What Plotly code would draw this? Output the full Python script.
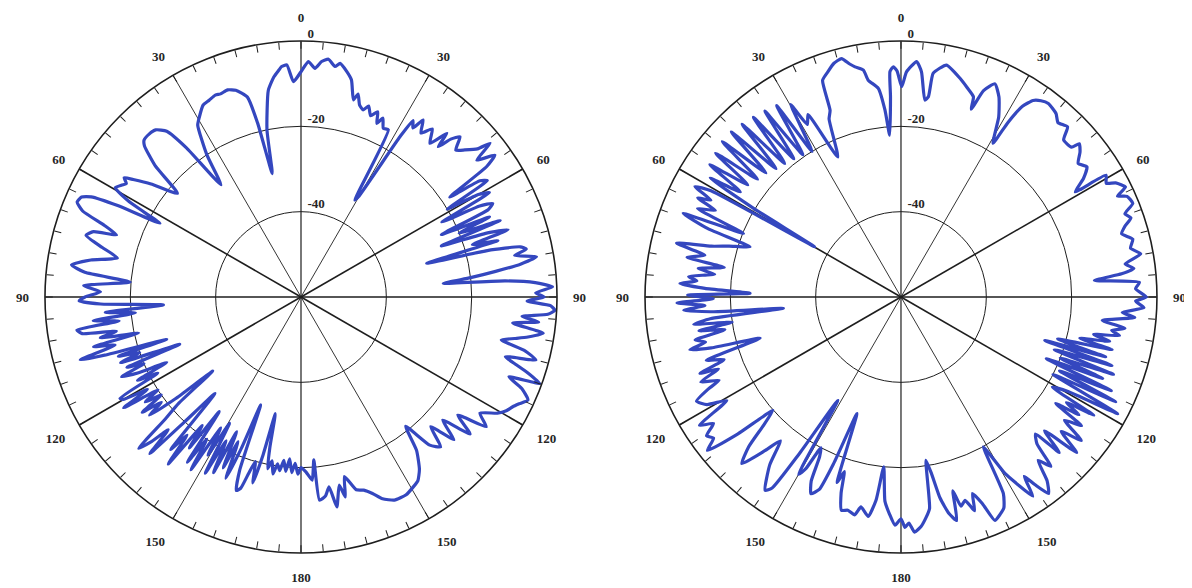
import plotly.graph_objects as go

# ---------------- data (dB vs. angle in degrees) ----------------
left_theta = [-180, -179, -178, -177, -176, -175, -174, -173, -172, -171, -170, -169, -168.3, -167.6, -166.5, -165.5,
              -164.5, -163.5, -162.5, -161.5, -160.5, -159.5, -158.5, -157.5, -156.5, -155.5, -154.5, -153.5, -152.5,
              -151.5, -150.5, -149.5, -148.5, -147.5, -146.5, -145.5, -144.5, -143.5, -142.5, -141.5, -140.5, -139.5,
              -138.3, -137, -136, -135, -134, -133, -132, -131, -130, -129, -128, -127, -126, -125, -124, -123, -122,
              -121, -120, -119.2, -118, -117, -116, -115, -114, -113, -112, -111.3, -110, -109, -108, -107.5, -106.5,
              -105.9, -104.5, -103.5, -102.5, -101.5, -100.5, -99.5, -98.4, -97.5, -96.5, -95.5, -94.5, -93.3, -92,
              -91, -90, -88.5, -87, -85, -83.5, -82, -80, -78, -76, -74, -72.5, -71.4, -70, -68.5, -67, -65.5, -64.5,
              -63.5, -62.4, -61, -59.5, -58, -57, -56, -55, -53, -50, -48, -46, -45, -43, -41, -39, -37.5, -35.5,
              -33.5, -31, -29.5, -27, -25, -23, -21.6, -19.5, -17.5, -15, -14, -13.1, -11.5, -9, -7, -5.5, -4.8, -3.5,
              -2, 0, 1.8, 3.5, 5, 6.6, 8.4, 9.5, 11.5, 13.1, 14.9, 15.7, 17, 18.4, 19.5, 21, 22.5, 23.6, 24.6, 26,
              27.6, 29, 29.8, 31.7, 32.4, 33.5, 34.6, 36.2, 38, 40, 41.7, 42.4, 43.5, 44.8, 46.5, 48.1, 50, 50.9, 52.1,
              53.8, 54.9, 56.1, 57, 58, 59, 60, 61, 62, 63, 64, 65, 66, 67, 68, 69, 70, 71, 72, 73, 74, 75, 76, 77.1,
              78, 79, 80.3, 81.5, 82.5, 83.5, 84.5, 85.5, 86.5, 87.7, 89, 90, 91, 92, 93, 94, 95, 96, 97, 98.5, 100,
              101, 102.1, 103.5, 105, 106.3, 107.5, 108.5, 109.9, 111, 112.5, 114.4, 116, 117.4, 119, 120.6, 123, 125,
              127, 129, 131, 133, 135, 137, 139, 141, 143, 145.5, 147.5, 149.4, 152, 155.3, 158, 160, 162, 164, 166.4,
              167.5, 168.5, 170.3, 171.6, 173, 174.8, 175.5, 176.5, 178.4, 180]
left_db = [-20, -18.5, -21, -18.8, -22, -19, -21.5, -19, -20.5, -18, -21, -19, -24, -32, -22, -15,
           -20, -17, -13, -12.2, -17, -33, -22, -14, -23, -16, -25, -14, -22,
           -13, -26, -17, -24, -12, -20, -13, -27, -16, -22, -10, -18, -13,
           -29.7, -20, -9, -16, -11, -8, -17, -22, -33, -22, -15, -19, -14, -20, -16, -20, -11,
           -18, -12, -11.4, -22, -17, -25, -18, -14, -20, -16, -29.5, -15, -20, -15, -27, -12,
           -6.2, -15, -10, -21, -12, -16, -8, -6.9, -17, -11, -21, -14, -27.7, -13,
           -8, -9.4, -13, -9, -19.8, -9, -5.7, -10, -16, -12, -7.6, -9, -14.4, -11, -5, -3, -3.5, -5.5,
           -12, -22.7, -14, -9.5, -10.5, -11.2, -10, -12, -16, -22.2, -14, -9, -8, -7.8, -8.1, -10, -16, -27.7,
           -20, -13, -11.6, -9.5, -9.1, -8.6, -8.8, -8.5, -9.2, -11.5, -18, -30.3, -20, -11, -8, -6.5, -5.8, -5.5,
           -9.5, -7.2, -4.8, -6.3, -4.6, -3.9, -5.4, -4.5, -6.1, -7.8, -12.2, -10.6, -13, -13.8, -12.5, -14.5, -13, -15.6, -13.9, -16,
           -15.8, -34, -33, -15.8, -11, -12.5, -9.6, -12.4, -10, -13, -8.6, -12.3, -9, -7.1, -10, -8.4, -6, -2.9, -7.8,
           -3.7, -6.8, -18, -10, -8.5, -20, -12, -9.5, -22.6, -13, -10, -11.6, -24, -12, -20, -10, -25, -14, -9, -18, -12, -29.5, -15, -7.3,
           -6, -9, -4, -8, -14, -20, -26.5, -12, -5, -1, -5, -3, -7, -1.5, -0.4, -2, -8, -4, -10, -2.6, -6,
           -9, -12, -6, -3, -10.1, -7, -4, -0.5, -7.8, -4, -1.6, -3, -4.1, -5, -6.5, -10, -7,
           -14, -9, -16, -11, -17, -12, -14, -21, -15, -11, -9, -8.3, -7.5, -7.6, -9, -11, -12.4, -13, -16.7,
           -12, -15, -10.1, -15, -13, -12.2, -21.7, -17, -19, -20]

right_theta = [-180, -178.5, -177, -175.5, -174.2, -173, -171.5, -169.2, -168, -166, -164.4, -163, -162, -161, -159.3,
               -158, -157, -155.4, -154, -153, -152, -151, -150, -148.6, -147, -146, -144.9, -142, -140, -138.5,
               -136.3, -134.5, -133, -131.5, -130, -128.4, -127, -125.5, -124, -122.5, -120.7, -119, -117, -115.5,
               -114.6, -113, -111.5, -110.8, -109.5, -108, -106.3, -105, -104, -103, -101.8, -100.5, -99.5, -98.5,
               -97.5, -96.5, -95.5, -94.5, -93.5, -92.5, -91.5, -90.5, -89.5, -88.6, -87.5, -86.5, -85.5, -84.5, -83,
               -82, -80.5, -79.5, -78, -76.5, -75, -73.5, -71.6, -70.5, -69, -68, -66.5, -65, -64, -63, -61.8, -60.8,
               -59.8, -59, -58.1, -56.8, -55.3, -53.8, -52.2, -50.6, -49, -47.4, -45.8, -44.2, -42.6, -41, -39.4,
               -37.8, -36.2, -34.6, -33, -31.4, -29.8, -28.5, -27, -24.3, -22, -20.8, -19.9, -18, -16, -14,
               -12.5, -11.3, -9.4, -8.6, -6.2, -4.9, -4, -3, -2.8, -1.9, -1, 0.2, 1.4, 3.8, 5.2, 6.9, 7.8, 8.2, 11.1,
               15.1, 17.5, 19.9, 20.5, 21.8, 23.8, 26.1, 28.5, 30.9, 31.5, 32.5, 33.9, 35.5, 37.3, 40.2, 42, 44.4, 46,
               48.7, 49.3, 51, 53, 55, 57, 58.9, 59.3, 61, 62, 63.9, 65, 66, 68, 69.6, 71, 72.5, 74, 76, 78, 79.8, 81.6,
               83, 84, 85.1, 86.5, 88, 90, 91, 92.5, 94, 95, 96.6, 98, 99, 100, 101, 102, 103, 104, 105, 106.3, 106.8,
               108, 109, 110, 111, 112, 113, 114, 115, 116, 117, 118.3, 119.5, 120.8, 121.5, 122.5, 123.5, 124.5,
               125.5, 127, 128.5, 130, 131.5, 133, 134.5, 135.5, 137.2, 138.5, 140, 141.5, 143.1, 144.5, 145.5, 146.5,
               148, 149.5, 151.2, 152.5, 154, 155.5, 157.2, 158.5, 160, 161, 162.5, 164, 165, 166, 167.5, 169, 170.2,
               171.3, 172.3, 173.5, 175, 176.7, 178, 179, 180]
right_db = [-8, -6.5, -9, -12, -20, -12, -8, -9.9, -7.8, -8.5, -8.1, -12, -17, -14, -30.8,
            -18, -11, -9.3, -12, -18, -20, -14, -12, -31.6, -16, -6, -4.6, -10, -16, -12,
            -6, -10, -16, -19.9, -10, -2.1, -5, -4, -7, -4, -12.5, -8, -6.2, -10,
            -13.1, -9, -14, -9.6, -16, -12, -25.6, -14, -9, -13, -10.7, -18, -12, -20,
            -11, -15, -32.3, -16, -9, -14, -7.5, -16, -10, -24.6, -14, -8.1, -12, -10, -16,
            -12, -18, -9, -13, -5.9, -14, -18, -22.7, -12, -5.3, -20.2, -8, -12, -7, -10, -5.2, -9,
            -36.6, -20, -7.3, -15, -5.5, -15.5, -5, -16.5, -4.5, -17, -4.5, -18, -5, -18.5, -5.5,
            -19, -6, -19.5, -6.5, -20, -8, -14, -12, -24, -15, -13.2, -6, -4.5, -3, -2.4,
            -4, -5, -6.1, -8.6, -10.8, -16, -22, -13, -7.1, -6, -7, -10.7, -7.2, -4.7, -7, -13.5, -12.6, -7, -4.6,
            -6.9, -8.5, -10.1, -13, -7.9, -5.4, -7.8, -12, -18, -12, -7, -4.5, -3.5, -3, -3.7, -5, -4.2, -7,
            -6.8, -4.9, -6, -8, -6.8, -9, -12.3, -4.1, -5, -3, -1.4, -4, -2, -1.4, -4, -3, -5, -6.2, -4, -5, -2.9, -6.9,
            -5, -8, -14.5, -4, -5, -2.5, -5, -3, -8, -5, -12.5, -7, -10, -8, -14, -10, -17, -9, -22, -10, -24.8,
            -8, -22, -7, -20, -9, -23, -6, -19, -4, -20, -2.3, -15, -18.7, -7, -14, -10, -16,
            -8, -12, -6, -11, -5, -14, -8, -15, -13.1, -7, -10, -5, -2.4, -6, -9, -4,
            -8, -12, -19.9, -8, -5, -4, -3.2, -8, -11, -7, -10, -9, -13, -6, -8, -12, -18,
            -21.3, -10, -8, -6, -4.8, -7, -6, -8]

angle_ticks = list(range(0, 360, 5))
label_angles = list(range(0, 360, 30))
angle_names = ["0", "30", "60", "90", "120", "150", "180", "150", "120", "90", "60", "30"]
ring_values = [-40, -20, 0]
ring_names = ["-40", "-20", "0"]
spokes_thick = [60, 90, 120, 240, 270, 300]
spokes_mid = [0, 180]
spokes_thin = [30, 150, 210, 330]
r_range = [-60, 0]

ink = "#1e1e1e"
label_ink = "#262626"
curve_color = "#3447bf"
font_family = "Liberation Serif"
label_font = dict(family=font_family, size=13, color=label_ink, weight="bold")

fig = go.Figure()


def spoke_trace(angles, width, subplot):
    th, rr = [], []
    for a in angles:
        th += [a, a, None]
        rr += [r_range[0], r_range[1], None]
    return go.Scatterpolar(theta=th, r=rr, mode="lines", line=dict(color=ink, width=width),
                           subplot=subplot, hoverinfo="skip", showlegend=False)


panels = [("polar", "polar3", left_theta, left_db), ("polar2", "polar4", right_theta, right_db)]
for main, over, th, db in panels:
    fig.add_trace(spoke_trace(spokes_thin, 0.9, main))
    fig.add_trace(spoke_trace(spokes_mid, 1.2, main))
    fig.add_trace(spoke_trace(spokes_thick, 1.6, main))
    fig.add_trace(go.Scatterpolar(theta=th, r=db, mode="lines",
                                  line=dict(color=curve_color, width=3.2, shape="spline", smoothing=0.5),
                                  subplot=main, showlegend=False))
    # radial level labels, sitting just above each ring beside the 0-degree spoke
    fig.add_trace(go.Scatterpolar(theta=[label_angles[0]] * len(ring_values), r=ring_values,
                                  mode="text", text=["  " + t for t in ring_names],
                                  textposition="top right", textfont=label_font,
                                  subplot=over, hoverinfo="skip", showlegend=False, cliponaxis=False))


def main_polar(xdom, ydom):
    return dict(
        domain=dict(x=xdom, y=ydom),
        bgcolor="white",
        angularaxis=dict(rotation=90, direction="clockwise", tickmode="array",
                         tickvals=angle_ticks, showticklabels=False, ticks="inside", ticklen=7,
                         tickwidth=1, tickcolor=ink, showline=True, linecolor=ink, linewidth=1.6,
                         showgrid=False),
        radialaxis=dict(range=r_range, tickmode="array", tickvals=ring_values,
                        showticklabels=False, showline=False, ticks="", showgrid=True,
                        gridcolor=ink, gridwidth=1.2, angle=90),
    )


def overlay_polar(xdom, ydom):
    return dict(
        domain=dict(x=xdom, y=ydom),
        bgcolor="rgba(0,0,0,0)",
        angularaxis=dict(rotation=90, direction="clockwise", tickmode="array",
                         tickvals=label_angles, ticktext=angle_names, ticks="outside", ticklen=13,
                         tickcolor="rgba(0,0,0,0)", showline=False, showgrid=False,
                         tickfont=label_font),
        radialaxis=dict(range=r_range, showticklabels=False, showline=False, ticks="",
                        showgrid=False, angle=90),
    )


y_dom = [0.0731, 0.9439]
left_x = [0.0310, 0.4606]
right_x = [0.5344, 0.9639]

fig.update_layout(
    width=1192, height=588,
    margin=dict(l=0, r=0, t=0, b=0),
    paper_bgcolor="white", plot_bgcolor="white",
    showlegend=False,
    polar=main_polar(left_x, y_dom),
    polar2=main_polar(right_x, y_dom),
    polar3=overlay_polar(left_x, y_dom),
    polar4=overlay_polar(right_x, y_dom),
)

fig.write_html("out.html")
